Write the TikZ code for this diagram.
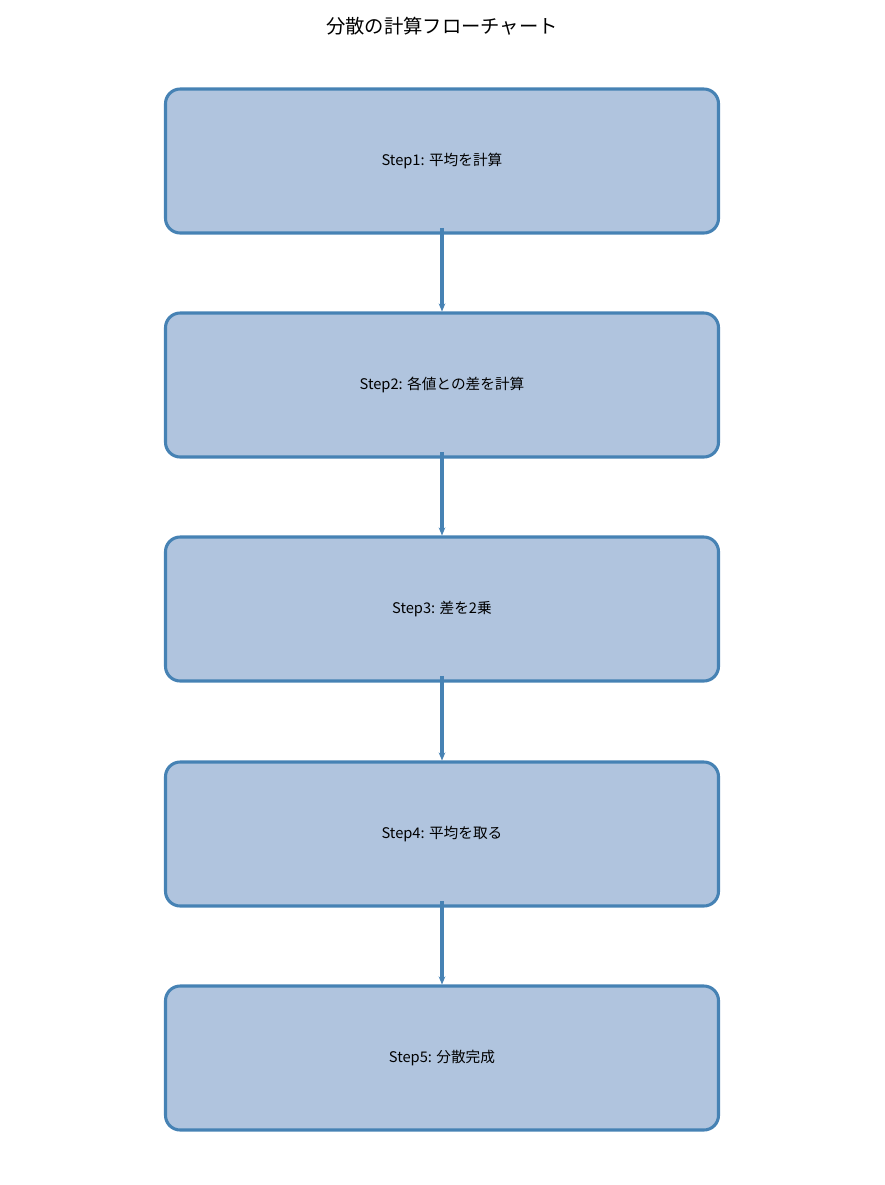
\documentclass[tikz,border=0pt]{standalone}
\usepackage{fontspec}
\setmainfont{Noto Sans CJK JP}
\usetikzlibrary{positioning,arrows.meta}
\begin{document}
\begin{tikzpicture}[x=0.75pt,y=-0.75pt]
% Styles
\tikzset{etape/.style={draw=steelblue,fill=lightsteel,line width=2.3pt,rounded corners=11pt,
    minimum width=553*0.75pt,minimum height=144*0.75pt,font=\fontsize{11pt}{13pt}\selectfont},
  fleche/.style={-{Stealth[length=6pt,width=5pt]},draw=steelblue,line width=2.3pt}}
\definecolor{steelblue}{HTML}{4682B4}
\definecolor{lightsteel}{HTML}{B0C4DE}
\useasboundingbox (0,0) rectangle (885,1185);
% Titre
\node[font=\fontsize{14.5pt}{17pt}\selectfont] (titre) at (442,26) {分散の計算フローチャート};
% Etapes
\node[etape] (s1) at (442,161) {Step1: 平均を計算};
\node[etape] (s2) at (442,385) {Step2: 各値との差を計算};
\node[etape] (s3) at (442,609) {Step3: 差を2乗};
\node[etape] (s4) at (442,834) {Step4: 平均を取る};
\node[etape] (s5) at (442,1058) {Step5: 分散完成};
% Flèches
\foreach \a/\b in {s1/s2,s2/s3,s3/s4,s4/s5}
  \draw[fleche] ([yshift=5pt]\a.south) -- (\b.north);
\end{tikzpicture}
\end{document}
